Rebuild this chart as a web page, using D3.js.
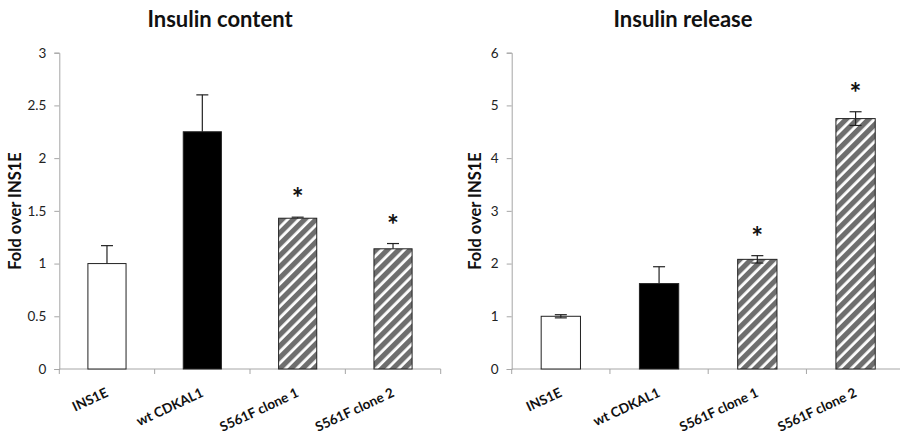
<!DOCTYPE html>
<html>
<head>
<meta charset="utf-8">
<script src="https://cdn.jsdelivr.net/npm/d3@7"></script>
<style>
  body { margin:0; background:#fff; }
  text { font-family: Lato, "Open Sans", sans-serif; }
</style>
</head>
<body>
<svg id="viewer"></svg>
<script>
var categories = ['INS1E', 'wt CDKAL1', 'S561F clone 1', 'S561F clone 2'];

var contentValues = [1.0, 2.25, 1.43, 1.14];
var contentErrors = [0.17, 0.35, 0.01, 0.05];
var contentStars = [false, false, true, true];
var contentTicks = [0, 0.5, 1, 1.5, 2, 2.5, 3];

var releaseValues = [1.0, 1.62, 2.08, 4.75];
var releaseErrors = [0.03, 0.32, 0.07, 0.13];
var releaseStars = [false, false, true, true];
var releaseTicks = [0, 1, 2, 3, 4, 5, 6];

var fills = ['white', 'black', 'url(#hatch)', 'url(#hatch)'];

var viewer = d3.select('#viewer')
  .attr('width', 900)
  .attr('height', 441);

var defs = viewer.append('defs');
var hatch = defs.append('pattern')
  .attr('id', 'hatch')
  .attr('patternUnits', 'userSpaceOnUse')
  .attr('width', 8)
  .attr('height', 8)
  .attr('patternTransform', 'rotate(45)');
hatch.append('rect')
  .attr('width', 8).attr('height', 8)
  .attr('fill', '#fff');
hatch.append('rect')
  .attr('width', 5.2).attr('height', 8)
  .attr('fill', '#6e6e6e');

function drawChart(opt)
{
  var g = viewer.append('g');

  var x = d3.scaleBand()
    .domain(categories)
    .range([opt.x0, opt.x1])
    .paddingInner(0.6)
    .paddingOuter(0.3);

  var y = d3.scaleLinear()
    .domain([0, opt.max])
    .range([369, 52.7]);

  // y axis
  var yAxis = g.append('g')
    .attr('transform', 'translate(' + opt.x0 + ',0)')
    .call(d3.axisLeft(y).tickValues(opt.ticks).tickSize(5).tickPadding(8).tickFormat(d3.format('')));
  yAxis.select('.domain').attr('stroke', '#a6a6a6');
  yAxis.selectAll('.tick line').attr('stroke', '#a6a6a6');
  yAxis.selectAll('.tick text')
    .attr('fill', '#222')
    .style('font-size', '13.5px')
    .style('font-family', 'Lato, sans-serif');

  // x axis line with category ticks between bars
  var step = x.step();
  var edges = d3.range(categories.length + 1).map(function(i){ return opt.x0 + i * step; });
  g.append('line')
    .attr('x1', opt.x0).attr('x2', opt.x0 + step * categories.length)
    .attr('y1', y(0)).attr('y2', y(0))
    .attr('stroke', '#a6a6a6');
  g.selectAll('.xtick')
    .data(edges)
    .enter().append('line')
      .attr('class', 'xtick')
      .attr('x1', function(d){ return d; })
      .attr('x2', function(d){ return d; })
      .attr('y1', y(0)).attr('y2', y(0) + 5)
      .attr('stroke', '#a6a6a6');

  // bars
  g.selectAll('.bar')
    .data(opt.values)
    .enter().append('rect')
      .attr('class', 'bar')
      .attr('x', function(d, i){ return x(categories[i]); })
      .attr('width', x.bandwidth())
      .attr('y', function(d){ return y(d); })
      .attr('height', function(d){ return y(0) - y(d); })
      .attr('fill', function(d, i){ return fills[i]; })
      .attr('stroke', '#222')
      .attr('stroke-width', 1);

  // error bars (lower half only where it would show on a light bar)
  var cap = 6;
  var showLower = function(i){ return opt.lower && fills[i] != 'black'; };
  var err = g.selectAll('.err')
    .data(opt.values)
    .enter().append('g')
      .attr('class', 'err')
      .attr('stroke', '#222')
      .attr('stroke-width', 1.2);
  err.append('line')
    .attr('x1', function(d, i){ return x(categories[i]) + x.bandwidth() / 2; })
    .attr('x2', function(d, i){ return x(categories[i]) + x.bandwidth() / 2; })
    .attr('y1', function(d, i){ return showLower(i) ? y(d - opt.errors[i]) : y(d); })
    .attr('y2', function(d, i){ return y(d + opt.errors[i]); });
  err.append('line')
    .attr('x1', function(d, i){ return x(categories[i]) + x.bandwidth() / 2 - cap; })
    .attr('x2', function(d, i){ return x(categories[i]) + x.bandwidth() / 2 + cap; })
    .attr('y1', function(d, i){ return y(d + opt.errors[i]); })
    .attr('y2', function(d, i){ return y(d + opt.errors[i]); });
  err.filter(function(d, i){ return showLower(i); }).append('line')
    .attr('x1', function(d){ var i = opt.values.indexOf(d); return x(categories[i]) + x.bandwidth() / 2 - cap; })
    .attr('x2', function(d){ var i = opt.values.indexOf(d); return x(categories[i]) + x.bandwidth() / 2 + cap; })
    .attr('y1', function(d){ var i = opt.values.indexOf(d); return y(d - opt.errors[i]); })
    .attr('y2', function(d){ var i = opt.values.indexOf(d); return y(d - opt.errors[i]); });

  // significance stars
  g.selectAll('.star')
    .data(opt.values)
    .enter().filter(function(d, i){ return opt.stars[i]; }).append('text')
      .attr('class', 'star')
      .attr('x', function(d){ return x(categories[opt.values.indexOf(d)]) + x.bandwidth() / 2; })
      .attr('y', function(d){ var i = opt.values.indexOf(d); return y(d + opt.errors[i]) - 9; })
      .attr('text-anchor', 'middle')
      .style('font-size', '28px')
      .style('font-weight', 'bold')
      .attr('fill', '#111')
      .text('*');

  // category labels
  g.selectAll('.xlabel')
    .data(categories)
    .enter().append('text')
      .attr('class', 'xlabel')
      .attr('text-anchor', 'end')
      .attr('transform', function(d){ return 'translate(' + (x(d) + x.bandwidth() / 2 + 2) + ',' + 396 + ') rotate(-25)'; })
      .style('font-size', '13.5px')
      .style('font-weight', 'bold')
      .attr('fill', '#111')
      .text(function(d){ return d; });

  // title
  g.append('text')
    .attr('x', opt.titleX)
    .attr('y', 27)
    .attr('text-anchor', 'middle')
    .style('font-size', '22px')
    .style('font-weight', 'bold')
    .attr('fill', '#111')
    .text(opt.title);

  // y label
  g.append('text')
    .attr('transform', 'translate(' + opt.labelX + ',211) rotate(-90)')
    .attr('text-anchor', 'middle')
    .style('font-size', '16.5px')
    .style('font-weight', 'bold')
    .attr('fill', '#111')
    .text('Fold over INS1E');
}

drawChart({
  x0: 59.3, x1: 440.7, max: 3, ticks: contentTicks,
  values: contentValues, errors: contentErrors, stars: contentStars,
  lower: false, title: 'Insulin content', titleX: 220, labelX: 21
});

drawChart({
  x0: 511.7, x1: 904.7, max: 6, ticks: releaseTicks,
  values: releaseValues, errors: releaseErrors, stars: releaseStars,
  lower: true, title: 'Insulin release', titleX: 683, labelX: 481
});
</script>
</body>
</html>
